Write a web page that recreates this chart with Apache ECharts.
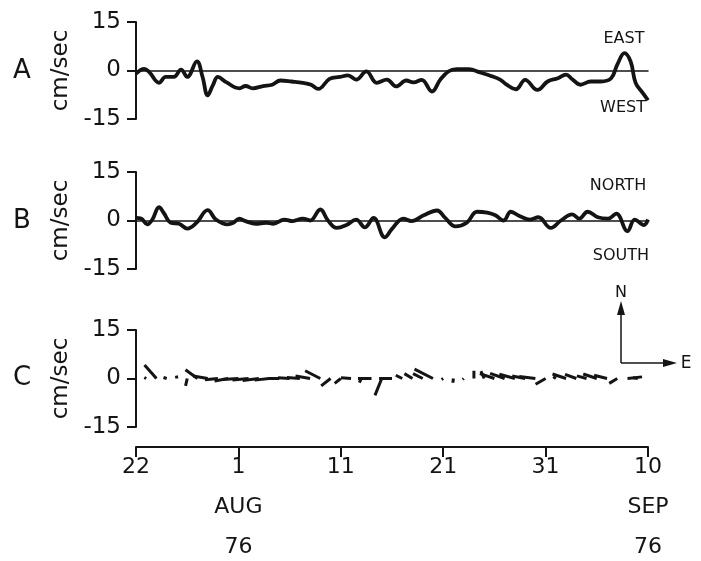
<!DOCTYPE html>
<html>
<head>
<meta charset="utf-8">
<script src="https://cdn.jsdelivr.net/npm/echarts@6/dist/echarts.min.js"></script>
<style>
  html, body { margin: 0; padding: 0; background: #fff; }
  #main { width: 701px; height: 561px; }
</style>
</head>
<body>
<div id="main"></div>
<script>
// days since 22 Jul 1976
var eastDay = [0, 0.8, 1.3, 2.25, 2.9, 3.7, 4.4, 5.0, 5.95, 6.5, 7.0, 7.5, 8.0, 8.8, 10.1, 10.7, 11.4, 12.4, 13.3, 14.1,
  15.2, 16.3, 17.1, 17.8, 18.9, 19.9, 20.7, 21.5, 22.5, 23.5, 24.5, 25.4, 26.4, 27.1, 27.9, 28.9, 29.7, 30.5, 31.3, 32.5,
  33.6, 34.6, 35.6, 36.2, 37.1, 38.0, 39.2, 40.2, 41.2, 42.0, 42.6, 43.4, 44.4, 45.4, 46.4, 47.0, 47.7, 48.3, 48.8, 49.5, 50];
var eastVel = [-1, 0.5, -0.5, -3.8, -2, -2, 0.3, -2, 2.8, -2, -7.7, -4.6, -2, -3.6, -5.5, -4.8, -5.5, -4.8, -4.4, -3.1,
  -3.4, -3.8, -4.4, -5.7, -2.6, -2, -1.5, -2.8, -0.3, -3.8, -2.8, -4.9, -3.1, -3.7, -2.9, -6.5, -2.9, -0.3, 0.4, 0.4,
  -0.6, -1.6, -2.9, -4.4, -5.8, -2.9, -6, -3.4, -2.4, -1.3, -2.7, -4.4, -3.4, -3.4, -2.4, 1.8, 5.4, 2.8, -3.9, -7, -9.2];

var northDay = [0, 0.5, 1.1, 1.6, 2.25, 2.7, 3.4, 4.2, 5.0, 5.9, 7.0, 7.8, 8.95, 9.5, 10.1, 10.7, 11.7, 12.7, 13.4, 14.5,
  15.3, 16.3, 17.0, 18.0, 18.75, 19.6, 20.55, 21.5, 22.35, 23.2, 24.3, 25.0, 26.1, 26.9, 28.1, 29.4, 30.2, 31.2, 32.3, 33.3,
  34.3, 35.1, 35.9, 36.6, 37.5, 38.5, 39.3, 40.5, 41.5, 42.6, 43.3, 44.1, 45.1, 46.1, 46.9, 48.0, 48.7, 49.6, 50];
var northVel = [0.8, 0.6, -1.2, 0.3, 4.1, 2.4, -0.7, -1, -2.5, -0.7, 3.2, 0.3, -1.2, -0.7, 0.6, -0.2, -1, -0.7, -1, 0.3,
  -0.2, 0.6, 0, 3.4, 0, -2.3, -1.4, 0.3, -2.1, 0.8, -5.2, -2.6, 0.6, -0.2, 1.6, 3.1, 0.8, -1.8, -0.7, 2.7,
  2.4, 1.6, 0, 2.7, 1.3, 0.3, 1, -2.3, 0, 1.9, 0.6, 2.7, 1, 0.6, 2.1, -3.3, 0.3, -1.4, 0.3];

// stick plot: daily vectors (cm/sec)
var stickDay = [0, 1, 2, 3, 4, 5, 6, 7, 8, 9, 10, 11, 12, 13, 14, 15, 16, 17, 18, 19, 20, 21, 22, 23, 24,
  25, 26, 27, 28, 29, 30, 31, 32, 33, 34, 35, 36, 37, 38, 39, 40, 41, 42, 43, 44, 45, 46, 47, 48, 49];
var stickU = [-0.3, -0.6, -3.7, -1.0, -0.2, -0.5, -3.7, -4.5, -4.0, -4.2, -5.0, -5.0, -5.0, -4.5, -3.5, -3.6, -4.0, -4.5, -4.7, -2.9,
  -1.9, -3.1, -0.6, -4.2, -2.1, -4.0, -2.0, -2.5, -3.0, -5.7, -0.5, -0.2, -0.3, 0.0, -1.0, -4.5, -4.5, -4.8, -4.0, -5.0,
  -3.1, -0.8, -4.2, -3.5, -3.0, -4.2, -4.0, -2.5, 4.5, -1.5];
var stickV = [0.2, 0.3, 4.2, 0.3, 0.9, -2.3, 2.7, 0.8, -0.4, -0.8, -0.3, -0.5, -0.6, -0.5, 0.0, 0.2, 0.3, 0.8, 2.4, -2.3,
  -1.5, 0.2, -1.3, 0.0, -5.2, 0.0, 1.0, 1.5, 1.5, 2.9, -0.3, -1.3, -0.3, 2.4, 2.3, 1.5, 1.6, 1.3, 0.8, 0.6,
  -1.8, 0.6, 1.4, 1.3, 0.8, 1.4, 1.0, -1.5, 0.5, 0.2];

var tickLabels = {0: '22', 10: '1\nAUG\n76', 20: '11', 30: '21', 40: '31', 50: '10\nSEP\n76'};

var ink = '#141414';
var font = 'DejaVu Sans';

var myChart = echarts.init(document.getElementById('main'));

function zip(a, b) {
  return a.map(function (x, i) { return [x, b[i]]; });
}

function yAx(idx) {
  return {
    type: 'value', gridIndex: idx, min: -15, max: 15, interval: 15,
    name: 'cm/sec', nameLocation: 'middle', nameGap: 62,
    nameTextStyle: { fontSize: 23, color: ink, fontFamily: font },
    axisLine: { show: true, lineStyle: { color: ink, width: 2 } },
    axisTick: { show: true, length: 9, lineStyle: { color: ink, width: 2 } },
    axisLabel: { fontSize: 23, color: ink, fontFamily: font, margin: 15 },
    splitLine: { show: false }
  };
}

function xAx(idx, shown) {
  return {
    type: 'value', gridIndex: idx, min: 0, max: 50, interval: 10,
    offset: shown ? 20 : 0,
    axisLine: { show: true, onZero: !shown, lineStyle: { color: ink, width: shown ? 2 : 1.5 } },
    axisTick: { show: shown, length: 10, lineStyle: { color: ink, width: 2 } },
    axisLabel: {
      show: shown, color: ink, fontFamily: font, fontSize: 22, lineHeight: 40, margin: 0,
      formatter: function (v) { return tickLabels[v] || ''; }
    },
    splitLine: { show: false }
  };
}

var option = {
  backgroundColor: '#fff',
  animation: false,
  grid: [
    { left: 136, width: 512, top: 22, height: 97, outerBoundsMode: 'none' },
    { left: 136, width: 512, top: 172, height: 97, outerBoundsMode: 'none' },
    { left: 136, width: 512, top: 330, height: 97, outerBoundsMode: 'none' }
  ],
  xAxis: [xAx(0, false), xAx(1, false), xAx(2, true)],
  yAxis: [yAx(0), yAx(1), yAx(2)],
  series: [
    {
      type: 'line', xAxisIndex: 0, yAxisIndex: 0, data: zip(eastDay, eastVel),
      smooth: 0.4, symbol: 'none', lineStyle: { color: ink, width: 3.8 }
    },
    {
      type: 'line', xAxisIndex: 1, yAxisIndex: 1, data: zip(northDay, northVel),
      smooth: 0.4, symbol: 'none', lineStyle: { color: ink, width: 3.8 }
    },
    {
      type: 'custom', xAxisIndex: 2, yAxisIndex: 2,
      data: stickDay.map(function (d, i) { return [d, stickU[i], stickV[i]]; }),
      encode: { x: 0, y: 2 },
      clip: false,
      renderItem: function (params, api) {
        var t = api.value(0), u = api.value(1), v = api.value(2);
        var s = api.size([1, 1]);
        var k = s[1] / s[0];
        var p0 = api.coord([t, 0]);
        var p1 = api.coord([t + u * k, v]);
        return {
          type: 'line',
          shape: { x1: p0[0], y1: p0[1], x2: p1[0], y2: p1[1] },
          style: { stroke: ink, lineWidth: 3 }
        };
      }
    }
  ],
  graphic: [
    { type: 'text', left: 13, top: 58, style: { text: 'A', fontSize: 26, fill: ink, fontFamily: font } },
    { type: 'text', left: 13, top: 208, style: { text: 'B', fontSize: 26, fill: ink, fontFamily: font } },
    { type: 'text', left: 13, top: 365, style: { text: 'C', fontSize: 26, fill: ink, fontFamily: font } },
    { type: 'text', x: 624, y: 39, style: { text: 'EAST', fontSize: 16, fill: ink, fontFamily: font, align: 'center', verticalAlign: 'middle' } },
    { type: 'text', x: 623, y: 108, style: { text: 'WEST', fontSize: 16, fill: ink, fontFamily: font, align: 'center', verticalAlign: 'middle' } },
    { type: 'text', x: 618, y: 186, style: { text: 'NORTH', fontSize: 16, fill: ink, fontFamily: font, align: 'center', verticalAlign: 'middle' } },
    { type: 'text', x: 621, y: 256, style: { text: 'SOUTH', fontSize: 16, fill: ink, fontFamily: font, align: 'center', verticalAlign: 'middle' } },
    // compass
    { type: 'line', shape: { x1: 621, y1: 363, x2: 621, y2: 312 }, style: { stroke: ink, lineWidth: 1.5 } },
    { type: 'line', shape: { x1: 621, y1: 363, x2: 665, y2: 363 }, style: { stroke: ink, lineWidth: 1.5 } },
    { type: 'polygon', shape: { points: [[621, 301], [617, 315], [625, 315]] }, style: { fill: ink } },
    { type: 'polygon', shape: { points: [[677, 363], [663, 359], [663, 367]] }, style: { fill: ink } },
    { type: 'text', x: 621, y: 293, style: { text: 'N', fontSize: 16, fill: ink, fontFamily: font, align: 'center', verticalAlign: 'middle' } },
    { type: 'text', x: 686, y: 364, style: { text: 'E', fontSize: 17, fill: ink, fontFamily: font, align: 'center', verticalAlign: 'middle' } }
  ]
};

myChart.setOption(option);
</script>
</body>
</html>
